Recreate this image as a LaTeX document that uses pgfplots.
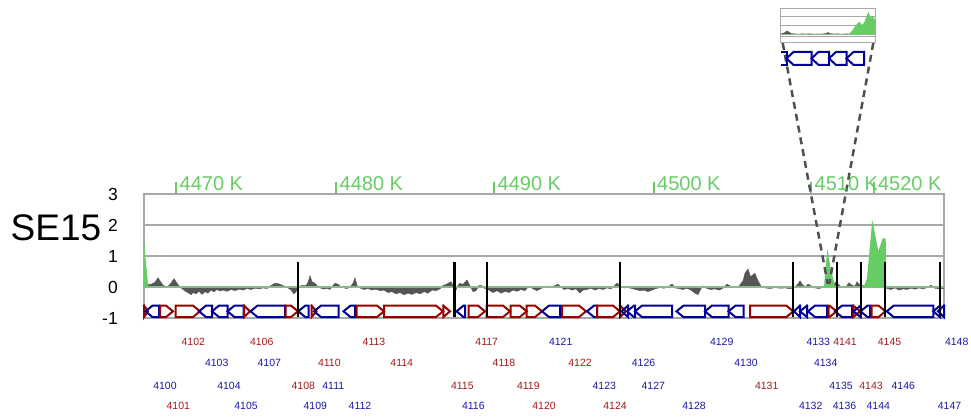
\documentclass[border=0pt]{standalone}
\usepackage{pgfplots}
\pgfplotsset{compat=1.18}
\usepackage{fontspec}
\setmainfont{Liberation Sans}
\definecolor{gred}{RGB}{153,0,0}
\definecolor{gblue}{RGB}{0,0,153}
\definecolor{lred}{RGB}{165,25,25}
\definecolor{lblue}{RGB}{25,25,165}
\definecolor{tgreen}{RGB}{102,204,102}
\definecolor{fgreen}{RGB}{102,204,102}
\definecolor{sgray}{RGB}{85,85,85}
\definecolor{bgreen}{RGB}{140,185,140}
\definecolor{ggray}{RGB}{168,168,168}
\definecolor{dgray}{RGB}{80,80,80}
\pgfplotsset{
  fg/.style={draw=gred, line width=2pt, line cap=rect, line join=miter, mark=none, fill=none},
  rg/.style={draw=gblue, line width=2pt, line cap=rect, line join=miter, mark=none, fill=none},
}
\def\gtop{-0.6}\def\gmid{-0.785}\def\gbot{-0.97}
\newcommand\fwd[2]{%
  \pgfmathsetmacro\hx{max(#1,#2-7)}%
  \edef\tmp{\noexpand\addplot[fg] coordinates {(#1,\gtop) (\hx,\gtop) (#2,\gmid) (\hx,\gbot) (#1,\gbot) (#1,\gtop)};}%
  \tmp}
\newcommand\rev[2]{%
  \pgfmathsetmacro\hx{min(#2,#1+7)}%
  \edef\tmp{\noexpand\addplot[rg] coordinates {(#2,\gtop) (\hx,\gtop) (#1,\gmid) (\hx,\gbot) (#2,\gbot) (#2,\gtop)};}%
  \tmp}
\newcommand\vm[2]{\addplot[black, line width=#2, mark=none] coordinates {(#1,-0.97) (#1,0.81)};}
\newcommand\gl[4]{\node[text=#3, inner sep=0pt, font=\fontsize{10.5}{12}\selectfont] at (axis cs:#1,#2) {#4};}
\newcommand\kl[2]{\node[anchor=base west, inner sep=0pt, xshift=3.5pt, yshift=3.5pt, text=tgreen, font=\fontsize{20}{24}\selectfont] at (axis cs:#1,3) {#2};}
\begin{document}
\begin{tikzpicture}
\useasboundingbox (0pt,0pt) rectangle (971pt,419pt);
\node[font=\fontsize{37}{40}\selectfont, inner sep=0pt] at (56pt,191.5pt) {SE15};
\begin{axis}[
  at={(144pt,101pt)}, anchor=south west, scale only axis,
  width=800pt, height=124pt,
  xmin=144, xmax=944, ymin=-1, ymax=3, clip=false,
  axis line style={draw=ggray, line width=1.3pt},
  ymajorgrids, grid style={draw=ggray, line width=1.3pt},
  ytick={-1,0,1,2,3}, yticklabels={-1,0,1,2,3},
  ytick style={draw=none, /pgfplots/major tick length=0pt},
  yticklabel style={inner sep=0pt, xshift=-14pt, font=\fontsize{17.5}{20}\selectfont},
  xtick={176,336,494,653.5,811,874.3}, xticklabels={{},{},{},{},{},{}},
  xtick pos=right, tick align=outside, major tick length=12pt,
  xtick style={draw=tgreen, line width=2pt},
]
% signal
\addplot[fill=sgray, draw=sgray, line width=0.4pt, mark=none] coordinates {
(144,0) (144,0.05) (148,0.08) (151,0.09) (155,0.15) (158,0.30) (161,0.15) (163,0.06) (167,0.0) (170,0.08) (174,0.27) (177,0.12) (180,0.0) (183,-0.08) (186,-0.15) (189,-0.2) (191,-0.25) (193,-0.18) (196,-0.22) (199,-0.14) (202,-0.24) (205,-0.15) (208,-0.2) (211,-0.1) (214,-0.16) (217,-0.08) (220,-0.13) (223,-0.1) (227,-0.14) (231,-0.08) (235,-0.12) (239,-0.07) (243,-0.1) (247,-0.05) (251,-0.08) (255,-0.04) (259,-0.06) (263,-0.03) (267,-0.05) (271,0.05) (275,0.12) (279,0.1) (282,0.06) (285,0.02) (288,-0.03) (291,-0.1) (294,-0.22) (296,-0.15) (299,0.02) (302,0.05) (305,0.04) (307,0.08) (309,0.25) (310,0.37) (312,0.17) (315,0.12) (318,0.01) (321,-0.04) (324,-0.07) (327,-0.04) (330,-0.08) (333,0.05) (335,0.12) (338,0.09) (341,0.0) (344,-0.03) (347,-0.05) (350,0.0) (353,0.12) (355,0.3) (357,0.05) (360,-0.03) (364,-0.08) (368,-0.05) (372,-0.1) (376,-0.07) (380,-0.12) (384,-0.1) (388,-0.18) (392,-0.15) (396,-0.22) (400,-0.18) (404,-0.25) (408,-0.2) (412,-0.24) (416,-0.18) (420,-0.22) (424,-0.15) (428,-0.2) (432,-0.1) (436,-0.12) (440,-0.06) (443,0.05) (446,0.08) (448,0.12) (451,0.17) (453,0.05) (456,-0.1) (458,0.05) (460,0.12) (463,0.08) (467,0.23) (470,0.04) (473,-0.15) (476,-0.12) (479,0.05) (482,0.04) (485,-0.05) (489,-0.1) (493,-0.18) (497,-0.12) (501,-0.2) (505,-0.14) (509,-0.18) (513,-0.1) (517,-0.14) (521,-0.08) (525,-0.12) (529,0.03) (533,-0.06) (537,-0.12) (541,-0.05) (545,0.02) (549,0.03) (553,0.02) (556,0.06) (558,0.09) (561,0.0) (564,-0.08) (568,-0.05) (572,-0.1) (576,-0.06) (580,-0.2) (583,-0.1) (587,-0.08) (591,-0.04) (595,-0.1) (599,-0.05) (603,-0.08) (607,-0.03) (611,-0.06) (614,0.03) (617,0.12) (620,0.05) (624,-0.03) (628,-0.02) (632,-0.05) (636,-0.08) (640,-0.12) (644,-0.1) (648,-0.15) (652,-0.1) (656,-0.05) (660,-0.02) (664,-0.04) (668,0.0) (672,0.1) (675,-0.03) (679,-0.05) (683,-0.08) (687,-0.04) (691,-0.1) (695,-0.2) (698,-0.25) (701,-0.05) (703,0.04) (707,-0.05) (711,-0.08) (715,-0.06) (719,-0.1) (723,-0.04) (727,0.09) (731,0.02) (735,0.0) (739,0.03) (743,0.2) (745,0.45) (748,0.58) (750.5,0.33) (753,0.4) (755,0.44) (758,0.2) (761.5,0.0) (765,-0.03) (770,-0.05) (775,-0.02) (780,-0.04) (785,-0.03) (790,-0.06) (795,0.0) (798,0.1) (800,0.2) (803,0.05) (806,0.02) (808,0.09) (811,0.04) (815,-0.03) (819,-0.05) (822,-0.02) (826,0.03) (830,0.05) (833,0.06) (836,0.17) (840,0.03) (843,0.02) (846,0.0) (849,0.14) (852,0.05) (855,0.03) (857,0.17) (860,0.06) (863,0.04) (866,0.05) (875,0.05) (884,0.03) (887,-0.05) (891,-0.08) (895,-0.03) (899,-0.1) (903,-0.06) (907,-0.08) (911,-0.04) (915,-0.07) (919,-0.03) (923,-0.06) (927,-0.02) (931,0.06) (935,-0.04) (939,-0.06) (944,-0.05) (944,0)};
\addplot[bgreen, line width=1.3pt, mark=none] coordinates {(144,0) (944,0)};
% highlighted regions
\addplot[fill=fgreen, draw=none, mark=none] coordinates {(144,0) (144,1.48) (145,1.1) (146.5,0.6) (148,0.12) (148.5,0)};
\addplot[fill=fgreen, draw=none, mark=none] coordinates {(824,0) (826,0.8) (827.5,1.23) (829,0.9) (831,0.55) (833,0.3) (835,0)};
\addplot[fill=fgreen, draw=none, mark=none] coordinates {(863,0) (865,0.1) (867,0.3) (869,1.0) (872.3,2.16) (878.3,1.16) (882.7,1.57) (885.7,1.57) (886.3,0)};
% genes
\fwd{144}{148}
\rev{145.5}{159}
\fwd{160}{173}
\fwd{175.7}{200}
\rev{199}{212}
\rev{212}{227.5}
\rev{227.5}{243.5}
\fwd{244}{250}
\rev{250.5}{285}
\fwd{285.5}{298}
\rev{298.3}{308.5}
\fwd{311.5}{316.5}
\rev{314}{338.5}
\rev{343.5}{355}
\fwd{356.7}{384}
\fwd{384}{443}
\fwd{443.3}{450}
\rev{456.5}{465}
\fwd{468.5}{485}
\fwd{486.7}{510}
\fwd{510.5}{526.7}
\fwd{526.7}{542}
\rev{542}{560}
\fwd{562}{586}
\rev{587}{597}
\fwd{597}{620}
\fwd{620}{626}
\rev{621.5}{628}
\rev{627}{635}
\rev{635}{672}
\rev{676.5}{705}
\rev{705}{728.5}
\rev{728.5}{743.5}
\fwd{750}{793.3}
\rev{794}{800}
\rev{800}{807}
\rev{808}{827}
\fwd{828.5}{836.5}
\rev{835}{852}
\fwd{853.3}{860}
\rev{853.5}{860.5}
\rev{860.5}{870}
\fwd{871.7}{885.5}
\rev{886.7}{933.3}
\rev{933.3}{940}
\rev{938}{944}
% markers
\vm{298.3}{2pt}
\vm{454.5}{3.5pt}
\vm{486.7}{2pt}
\vm{620}{2pt}
\vm{793.3}{2pt}
\vm{836.5}{2pt}
\vm{860.7}{2pt}
\vm{885}{2pt}
\vm{940}{2pt}
% zoom connectors
\addplot[dgray, line width=2.5pt, dash pattern=on 7pt off 5pt, mark=none] coordinates {(782.7,7.87) (827.7,0.1)};
\addplot[dgray, line width=2.5pt, dash pattern=on 7pt off 5pt, mark=none] coordinates {(873.3,7.87) (829.2,0.1)};
% coordinate labels
\kl{176}{4470 K}
\kl{336}{4480 K}
\kl{494}{4490 K}
\kl{653.5}{4500 K}
\kl{811}{4510 K}
\kl{874.3}{4520 K}
% gene labels
\gl{193.3}{-1.774}{lred}{4102}
\gl{261.7}{-1.774}{lred}{4106}
\gl{374}{-1.774}{lred}{4113}
\gl{486.7}{-1.774}{lred}{4117}
\gl{560.7}{-1.774}{lblue}{4121}
\gl{721.7}{-1.774}{lblue}{4129}
\gl{818.3}{-1.774}{lblue}{4133}
\gl{845}{-1.774}{lred}{4141}
\gl{889.5}{-1.774}{lred}{4145}
\gl{956.7}{-1.774}{lblue}{4148}
\gl{216.7}{-2.452}{lblue}{4103}
\gl{269.3}{-2.452}{lblue}{4107}
\gl{329.3}{-2.452}{lred}{4110}
\gl{401.7}{-2.452}{lred}{4114}
\gl{504}{-2.452}{lred}{4118}
\gl{580}{-2.452}{lred}{4122}
\gl{643.5}{-2.452}{lblue}{4126}
\gl{746}{-2.452}{lblue}{4130}
\gl{825.7}{-2.452}{lblue}{4134}
\gl{165}{-3.177}{lblue}{4100}
\gl{229}{-3.177}{lblue}{4104}
\gl{303.3}{-3.177}{lred}{4108}
\gl{333.3}{-3.177}{lblue}{4111}
\gl{462.3}{-3.177}{lred}{4115}
\gl{528.3}{-3.177}{lred}{4119}
\gl{604.3}{-3.177}{lblue}{4123}
\gl{653.3}{-3.177}{lblue}{4127}
\gl{766.7}{-3.177}{lred}{4131}
\gl{841}{-3.177}{lblue}{4135}
\gl{871}{-3.177}{lred}{4143}
\gl{903.3}{-3.177}{lblue}{4146}
\gl{178.3}{-3.839}{lred}{4101}
\gl{246}{-3.839}{lblue}{4105}
\gl{315.3}{-3.839}{lblue}{4109}
\gl{360}{-3.839}{lblue}{4112}
\gl{473.3}{-3.839}{lblue}{4116}
\gl{544}{-3.839}{lred}{4120}
\gl{615}{-3.839}{lred}{4124}
\gl{694}{-3.839}{lblue}{4128}
\gl{810.7}{-3.839}{lblue}{4132}
\gl{844.5}{-3.839}{lblue}{4136}
\gl{878.3}{-3.839}{lblue}{4144}
\gl{949.5}{-3.839}{lblue}{4147}
\end{axis}
% inset
\begin{axis}[
  at={(780.7pt,376.5pt)}, anchor=south west, scale only axis,
  width=94.3pt, height=34.2pt,
  xmin=780.7, xmax=875, ymin=-0.95, ymax=3, clip=false,
  axis line style={draw=ggray, line width=1pt},
  ymajorgrids, grid style={draw=ggray, line width=1pt},
  ytick={-0.28,1,2}, yticklabels={{},{},{}}, xtick=\empty,
  ytick style={draw=none, /pgfplots/major tick length=0pt},
]
\addplot[fill=sgray, draw=sgray, line width=0.3pt, mark=none] coordinates {(781,0) (781,0.05) (783,0.12) (785,0.2) (787,0.4) (789,0.25) (791,0.1) (794,0.05) (798,0.02) (802,0.05) (806,0.03) (810,0.06) (814,0.02) (818,0.04) (822,0.03) (826,0.1) (828,0.2) (830,0.08) (834,0.03) (838,0.05) (842,0.02) (846,0.05) (850,0.03) (850,0)};
\addplot[bgreen, line width=0.8pt, mark=none] coordinates {(781,0) (875,0)};
\addplot[fill=fgreen, draw=none, mark=none] coordinates {(849,0) (852,0.4) (855,0.9) (857,1.2) (859.3,1.45) (861.7,1.1) (864,1.3) (866,1.9) (868.3,2.6) (870.7,1.9) (872.7,2.1) (875,1.7) (875,0)};
\def\gtop{-2.04}\def\gmid{-2.79}\def\gbot{-3.545}
\addplot[rg] coordinates {(781.5,-2.04) (786.5,-2.04) (786.5,-3.545) (781.5,-3.545)};
\rev{786.5}{811.5}
\rev{811.5}{829}
\rev{829}{846.5}
\rev{846.5}{864}
\end{axis}
\end{tikzpicture}
\end{document}
